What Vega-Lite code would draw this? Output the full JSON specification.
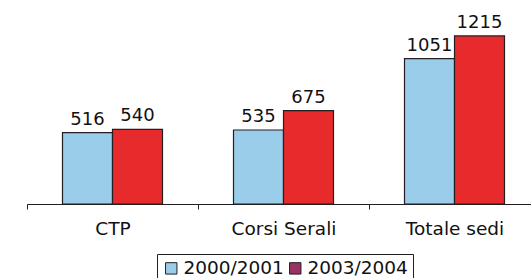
{
  "$schema": "https://vega.github.io/schema/vega-lite/v6.json",
  "width": 504,
  "height": 204,
  "autosize": {"type": "none"},
  "padding": {"left": 27, "top": 0, "right": 0, "bottom": 74},
  "background": "white",
  "config": {"view": {"stroke": null}, "font": "DejaVu Sans"},
  "data": {"values": [
    {"category": "CTP", "year": "2000/2001", "value": 516},
    {"category": "CTP", "year": "2003/2004", "value": 540},
    {"category": "Corsi Serali", "year": "2000/2001", "value": 535},
    {"category": "Corsi Serali", "year": "2003/2004", "value": 675},
    {"category": "Totale sedi", "year": "2000/2001", "value": 1051},
    {"category": "Totale sedi", "year": "2003/2004", "value": 1215}
  ]},
  "encoding": {
    "x": {"field": "category", "type": "nominal", "sort": null,
      "scale": {"range": [0, 513], "paddingInner": 0, "paddingOuter": 0},
      "axis": {"title": null, "labelAngle": 0, "tickBand": "extent", "domainColor": "#231F20", "tickColor": "#231F20", "tickSize": 5, "labelFontSize": 18.5, "labelColor": "#111", "labelPadding": 10, "labelFont": "DejaVu Sans"}},
    "xOffset": {"field": "year", "type": "nominal", "scale": {"paddingInner": 0, "paddingOuter": 0.71}},
    "y": {"field": "value", "type": "quantitative", "scale": {"domain": [0, 1475], "nice": false}, "axis": null}
  },
  "layer": [
    {
      "mark": {"type": "bar", "stroke": "#231F20", "strokeWidth": 1.2},
      "encoding": {
        "color": {"field": "year", "type": "nominal",
          "scale": {"domain": ["2000/2001", "2003/2004"], "range": ["#9ACDEA", "#E72A2C"]},
          "legend": null}
      }
    },
    {
      "mark": {"type": "text", "baseline": "bottom", "dy": -4, "fontSize": 18, "color": "#111", "font": "DejaVu Sans"},
      "encoding": {"text": {"field": "value", "type": "quantitative"}}
    },
    {
      "mark": {"type": "square", "size": 0, "filled": true, "opacity": 1},
      "encoding": {
        "color": {"field": "year", "type": "nominal",
          "scale": {"domain": ["2000/2001", "2003/2004"], "range": ["#9ACDEA", "#993366"]},
          "legend": {"title": null, "orient": "none", "legendX": 130, "legendY": 254, "direction": "horizontal",
            "symbolType": "square", "symbolSize": 130, "symbolStrokeColor": "#231F20", "symbolStrokeWidth": 1,
            "symbolOpacity": 1, "symbolFillColor": null,
            "labelFontSize": 18.5, "labelColor": "#111", "labelFont": "DejaVu Sans", "labelOffset": 3, "columnPadding": 2,
            "strokeColor": "#231F20", "padding": 5, "cornerRadius": 0,
            "encode": {"symbols": {"update": {"stroke": {"value": "#231F20"}, "strokeWidth": {"value": 1}, "opacity": {"value": 1}, "fillOpacity": {"value": 1}}}}}
        }
      }
    }
  ],
  "resolve": {"scale": {"color": "independent"}}
}
